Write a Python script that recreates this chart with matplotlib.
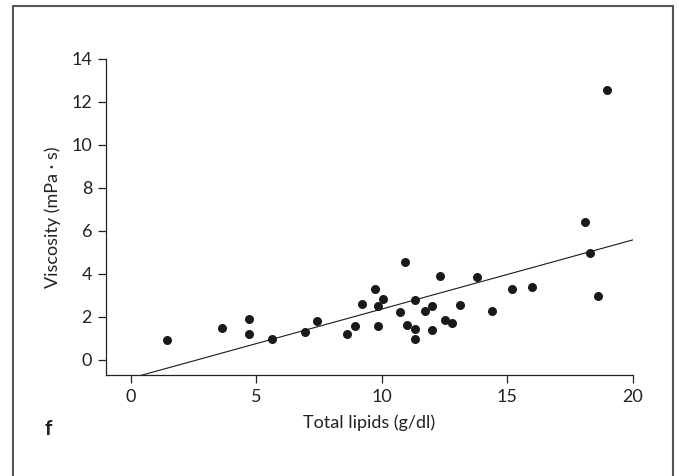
import matplotlib
matplotlib.use("Agg")  # no display
import matplotlib.pyplot as plt
from matplotlib.patches import Rectangle
import numpy as np

plt.rcParams['font.family'] = ['Lato', 'DejaVu Sans']

# data
total_lipids = [1.44, 3.63, 4.72, 4.72, 5.63, 6.93, 7.43, 8.61, 8.92, 9.22,
                9.72, 9.84, 9.83, 10.03, 10.71, 10.92, 11.01, 11.32, 11.32, 11.32,
                11.72, 12.01, 12.01, 12.33, 12.52, 12.81, 13.11, 13.80, 14.41, 15.21,
                15.99, 18.11, 18.30, 18.61, 19.00]
viscosity = [0.94, 1.47, 1.90, 1.19, 0.96, 1.32, 1.81, 1.22, 1.60, 2.59,
             3.30, 2.49, 1.58, 2.85, 2.25, 4.54, 1.64, 2.80, 1.46, 0.99,
             2.26, 2.49, 1.38, 3.90, 1.87, 1.72, 2.56, 3.84, 2.29, 3.30,
             3.41, 6.40, 4.96, 2.97, 12.53]
fit_slope = 0.321
fit_intercept = -0.845
x_ticks = [0, 5, 10, 15, 20]
y_ticks = [0, 2, 4, 6, 8, 10, 12, 14]

fig = plt.figure(figsize=(6.79, 4.76), dpi=100)
ax = fig.add_axes([0.156, 0.2122, 0.7756, 0.6645])

ax.plot(total_lipids, viscosity, 'o', color='#1a1a1a', markersize=6.5,
        markeredgewidth=0, clip_on=False)

x_line = np.linspace(-1, 20, 200)
ax.plot(x_line, fit_slope * x_line + fit_intercept, color='#1a1a1a', lw=0.8)

ax.set_xlim(-1, 20)
ax.set_ylim(-0.7, 14)
ax.set_xticks(x_ticks)
ax.set_yticks(y_ticks)
ax.spines['top'].set_visible(False)
ax.spines['right'].set_visible(False)
for s in ('left', 'bottom'):
    ax.spines[s].set_linewidth(0.9)
    ax.spines[s].set_color('#222222')
ax.tick_params(direction='out', length=5.5, width=0.9, labelsize=13,
               colors='#222222', pad=4.5)

ax.set_xlabel('Total lipids (g/dl)', fontsize=13, color='#222222', labelpad=7)
ax.set_ylabel('Viscosity (mPa · s)', fontsize=13, color='#222222', labelpad=7)

fig.text(0.066, 0.086, 'f', fontsize=15, fontweight='bold', color='#222222')

# frame round the panel (bottom edge runs off the image)
fig.patches.append(Rectangle((0.019, -0.02), 0.972, 1.007, transform=fig.transFigure,
                             fill=False, edgecolor='#555555', lw=1.5))

fig.savefig('out.png', dpi=100)
